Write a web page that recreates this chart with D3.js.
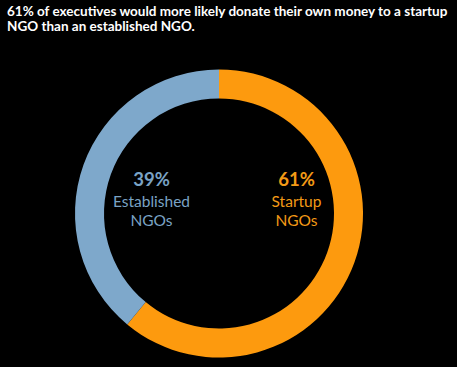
<!DOCTYPE html>
<html><head><meta charset="utf-8">
<script src="https://cdn.jsdelivr.net/npm/d3@7"></script>
<style>html,body{margin:0;padding:0;background:#000;}svg{display:block;}</style>
</head><body>
<script>
const categories = ["Startup NGOs", "Established NGOs"];
const values = [61, 39];
const pctLabels = ["61%", "39%"];
const nameLines = [["Startup", "NGOs"], ["Established", "NGOs"]];
const colors = ["#fd9a0e", "#7ea8cb"];
const textColors = ["#f39a16", "#7aa3c5"];
const titleLines = ["61% of executives would more likely donate their own money to a startup", "NGO than an established NGO."];

const W = 457, H = 367;
const svg = d3.select("body").append("svg").attr("width", W).attr("height", H);
svg.append("rect").attr("width", W).attr("height", H).attr("fill", "#000");

const title = svg.append("g");
titleLines.forEach((t, i) => {
  title.append("text").attr("x", 7).attr("y", 15.5 + i * 15.5)
    .attr("fill", "#fff").attr("font-family", "Lato, 'Open Sans', sans-serif")
    .attr("font-weight", 700).attr("font-size", 13.5).text(t);
});

const cx = 219, cy = 213.5, R = 144, r = 115;
const pie = d3.pie().sort(null).value(d => d);
const arc = d3.arc().innerRadius(r).outerRadius(R);
const g = svg.append("g").attr("transform", `translate(${cx},${cy})`);
g.selectAll("path").data(pie(values)).join("path")
  .attr("d", arc).attr("fill", (d, i) => colors[i]);

const labelX = [296.5, 151.5];
categories.forEach((c, i) => {
  const lg = svg.append("g").attr("fill", textColors[i]).attr("text-anchor", "middle")
    .attr("font-family", "Lato, 'Open Sans', sans-serif");
  lg.append("text").attr("x", labelX[i]).attr("y", 186).attr("font-weight", 700)
    .attr("font-size", 18.5).text(pctLabels[i]);
  nameLines[i].forEach((l, j) => {
    lg.append("text").attr("x", labelX[i]).attr("y", 206.5 + j * 19)
      .attr("font-weight", 400).attr("font-size", 15.5).text(l);
  });
});
</script>
</body></html>
